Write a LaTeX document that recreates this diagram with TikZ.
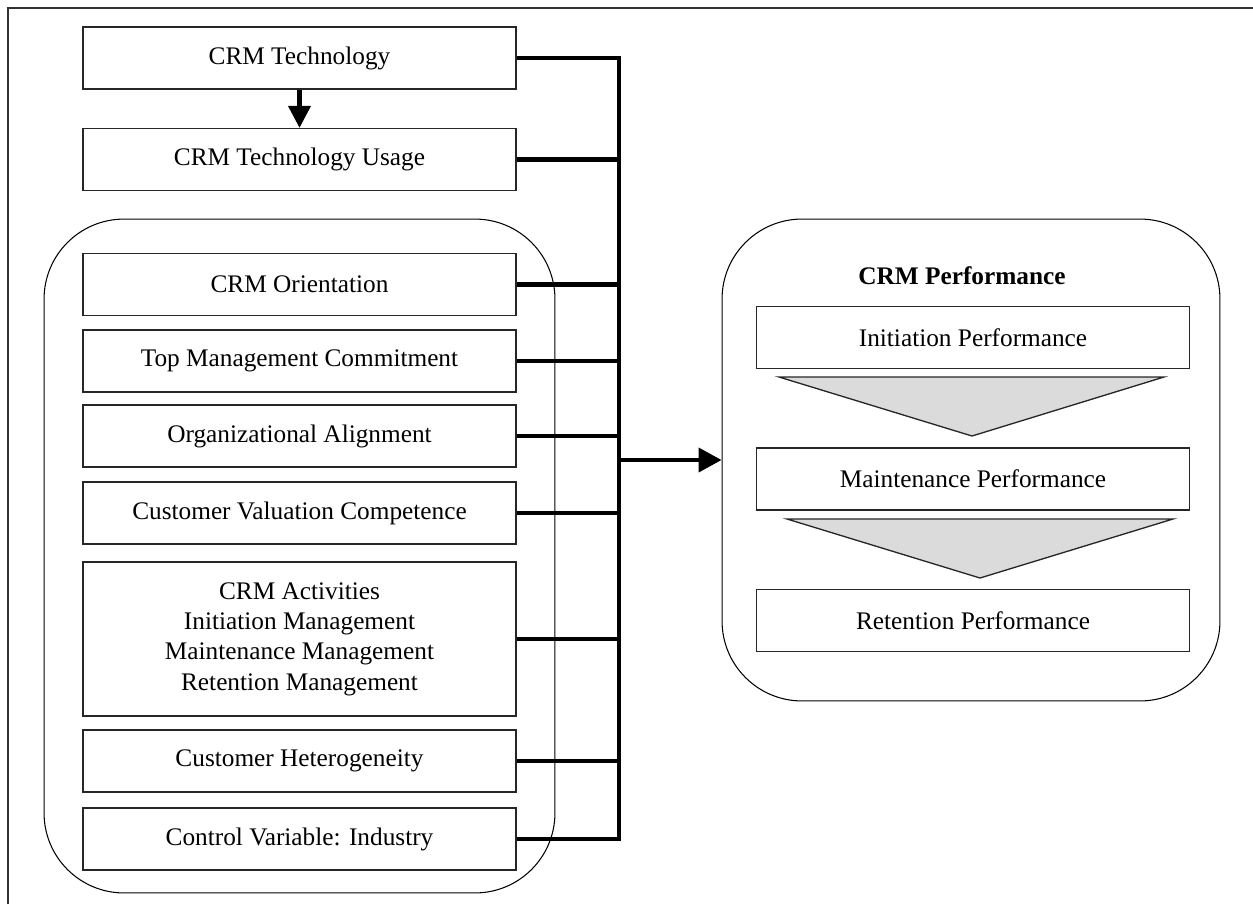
\documentclass[tikz,border=0pt]{standalone}
\usepackage{fontspec}
\setmainfont{Liberation Serif}
\usetikzlibrary{arrows.meta}

\begin{document}
\begin{tikzpicture}[x=0.02cm, y=-0.02cm,
    every node/.style={font=\fontsize{14.4}{17.3}\selectfont},
    box/.style={draw=black!85, line width=0.75pt, minimum width=8.66cm,
        minimum height=1.24cm, inner sep=0pt, align=center},
    group/.style={draw, line width=0.6pt, rounded corners=1.6cm, inner sep=0pt},
    link/.style={line width=2.3pt},
    tri/.style={draw=black!85, line width=0.75pt, fill=black!14}]
    \useasboundingbox (0,0) rectangle (1253,904);

    % frame
    \draw[line width=1.2pt, black!80] (8,904) -- (8,8) -- (1253,8);

    % drivers
    \node[box] (tech) at (299.5,58) {CRM Technology};
    \node[box] (usage) at (299.5,159.5) {CRM Technology Usage};
    \node[group, minimum width=10.22cm, minimum height=13.48cm] (drivers) at (299.5,556) {};
    \node[box] (orient) at (299.5,284.5) {CRM Orientation};
    \node[box] (topmgmt) at (299.5,361) {Top Management Commitment};
    \node[box] (align) at (299.5,436) {Organizational Alignment};
    \node[box] (valuation) at (299.5,513) {Customer Valuation Competence};
    \node[box, minimum height=3.08cm] (activities) at (299.5,639)
        {CRM Activities\\Initiation Management\\Maintenance Management\\Retention Management};
    \node[box] (hetero) at (299.5,761) {Customer Heterogeneity};
    \node[box] (industry) at (299.5,839) {Control Variable: Industry};

    \draw[link, -{Triangle[length=0.44cm, width=0.44cm]}] (tech.south) -- (usage.north);

    % performance
    \node[group, minimum width=9.96cm, minimum height=9.64cm] (perf) at (971,460) {};
    \node (perftitle) at (962,276) {\textbf{CRM Performance}};
    \node[box] (initperf) at (973,337.5) {Initiation Performance};
    \node[box] (maintperf) at (973,479) {Maintenance Performance};
    \node[box] (retperf) at (973,620.5) {Retention Performance};

    \draw[tri] (779,377) -- (1164,377) -- (972,436) -- cycle;
    \draw[tri] (787,519) -- (1173,519) -- (980,578) -- cycle;

    % links to the bus
    \coordinate (bus) at (619,0);
    \draw[link] (tech.east) -| (industry.east -| bus) -- (industry.east);
    \foreach \n in {usage,orient,topmgmt,align,valuation,activities,hetero}
        \draw[link] (\n.east) -- (\n.east -| bus);
    \draw[link, -{Triangle[length=0.46cm, width=0.48cm]}] (bus |- perf.west) -- (perf.west);
\end{tikzpicture}
\end{document}
